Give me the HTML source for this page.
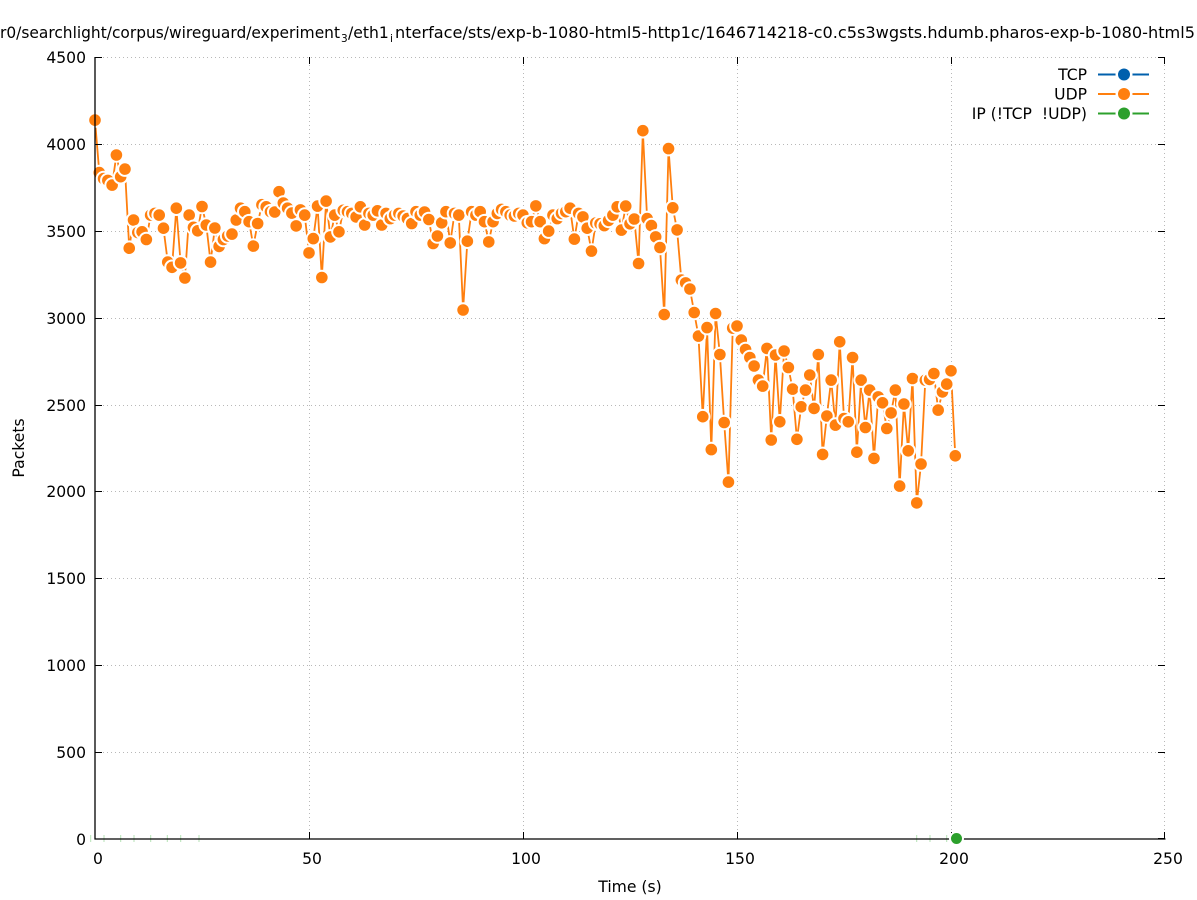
<!DOCTYPE html>
<html>
<head>
<meta charset="utf-8">
<style>
html,body{margin:0;padding:0;background:#fff;}
svg{display:block;}
text{font-family:"DejaVu Sans","Liberation Sans",sans-serif;fill:#000;}
</style>
</head>
<body>
<svg width="1197" height="900" viewBox="0 0 1197 900" xmlns="http://www.w3.org/2000/svg">
<defs>
<marker id="mo" markerUnits="userSpaceOnUse" markerWidth="20" markerHeight="20" refX="10" refY="10" overflow="visible">
<circle cx="10" cy="10" r="7.8" fill="#fff"/>
<circle cx="10" cy="10" r="5.8" fill="#ff7f0e"/>
</marker>
</defs>
<rect width="1197" height="900" fill="#fff"/>

<!-- title -->
<text y="38" font-size="15.6"><tspan x="0" textLength="340" lengthAdjust="spacingAndGlyphs">r0/searchlight/corpus/wireguard/experiment</tspan><tspan font-size="10.5" dy="4" x="341">3</tspan><tspan dy="-4" x="348">/eth1</tspan><tspan font-size="10.5" dy="4" x="390">i</tspan><tspan dy="-4" x="395" textLength="800" lengthAdjust="spacingAndGlyphs">nterface/sts/exp-b-1080-html5-http1c/1646714218-c0.c5s3wgsts.hdumb.pharos-exp-b-1080-html5</tspan></text>

<!-- grid -->
<g stroke="#b8b8b8" stroke-width="1" stroke-dasharray="1,3" fill="none">
<line x1="95" y1="57.5" x2="1165" y2="57.5"/>
<line x1="95" y1="144.5" x2="1165" y2="144.5"/>
<line x1="95" y1="231.5" x2="1165" y2="231.5"/>
<line x1="95" y1="318.5" x2="1165" y2="318.5"/>
<line x1="95" y1="405.5" x2="1165" y2="405.5"/>
<line x1="95" y1="491.5" x2="1165" y2="491.5"/>
<line x1="95" y1="578.5" x2="1165" y2="578.5"/>
<line x1="95" y1="665.5" x2="1165" y2="665.5"/>
<line x1="95" y1="752.5" x2="1165" y2="752.5"/>
<line x1="309.5" y1="57" x2="309.5" y2="839"/>
<line x1="523.5" y1="57" x2="523.5" y2="839"/>
<line x1="737.5" y1="57" x2="737.5" y2="839"/>
<line x1="951.5" y1="57" x2="951.5" y2="839"/>
<line x1="1164.5" y1="57" x2="1164.5" y2="839"/>
</g>

<!-- faint green fragments along x-axis -->
<g stroke="#b5e2b5" stroke-width="1">
<line x1="90.7" y1="835" x2="90.7" y2="842"/>
<line x1="104" y1="835" x2="104" y2="842"/>
<line x1="120.7" y1="835" x2="120.7" y2="842"/>
<line x1="134" y1="835" x2="134" y2="842"/>
<line x1="150.7" y1="835" x2="150.7" y2="842"/>
<line x1="167.3" y1="835" x2="167.3" y2="842"/>
<line x1="180.7" y1="835" x2="180.7" y2="842"/>
<line x1="199" y1="835" x2="199" y2="842"/>
<line x1="916.7" y1="835" x2="916.7" y2="842"/>
<line x1="930" y1="835" x2="930" y2="842"/>
<line x1="946.7" y1="835" x2="946.7" y2="842"/>
</g>

<!-- UDP series -->
<polyline fill="none" stroke="#ff7f0e" stroke-width="1.8" stroke-linejoin="round" marker-start="url(#mo)" marker-mid="url(#mo)" marker-end="url(#mo)" points="
95,120.1 99.28,172.6 103.56,178.6 107.84,180.4 112.12,185.1 116.4,155.0 120.68,176.7 124.96,169.1 129.24,248.2 133.52,220.0
137.8,232.5 142.08,231.8 146.36,239.5 150.64,215.1 154.92,213.4 159.2,215.1 163.48,228.2 167.76,262.1 172.04,267.3 176.32,208.2
180.6,262.9 184.88,278.0 189.16,215.1 193.44,227.3 197.72,230.8 202,206.5 206.28,225.0 210.56,262.1 214.84,228.0 219.12,246.4
223.4,239.5 227.68,236.0 231.96,234.1 236.24,220.0 240.52,208.2 244.8,211.7 249.08,221.7 253.36,246.1 257.64,223.5 261.92,204.7
266.2,206.8 270.48,211.7 274.76,212.0 279.04,191.7 283.32,203.0 287.6,208.2 291.88,213.1 296.16,225.9 300.44,209.9 304.72,215.1
309,252.9 313.28,238.6 317.56,206.1 321.84,277.5 326.12,201.1 330.4,236.9 334.68,215.1 338.96,231.8 343.24,210.3 347.52,211.7
351.8,213.4 356.08,216.9 360.36,206.8 364.64,225.0 368.92,213.4 373.2,215.1 377.48,210.8 381.76,225.0 386.04,213.4 390.32,218.6
394.6,215.1 398.88,213.4 403.16,216.0 407.44,218.6 411.72,223.5 416,211.7 420.28,215.1 424.56,212.0 428.84,219.5 433.12,243.5
437.4,236.0 441.68,222.8 445.96,211.7 450.24,242.9 454.52,213.4 458.8,215.1 463.08,310.0 467.36,241.2 471.64,211.7 475.92,215.1
480.2,211.7 484.48,221.7 488.76,241.9 493.04,221.7 497.32,213.4 501.6,209.4 505.88,211.7 510.16,215.1 514.44,216.0 518.72,213.4
523,215.1 527.28,222.8 531.56,221.7 535.84,205.9 540.12,221.7 544.4,238.6 548.68,231.1 552.96,215.1 557.24,218.6 561.52,213.4
565.8,211.7 570.08,208.2 574.36,239.1 578.64,213.4 582.92,216.9 587.2,228.2 591.48,251.1 595.76,223.0 600.04,223.8 604.32,225.6
608.6,220.4 612.88,215.1 617.16,206.8 621.44,230.1 625.72,206.1 630,223.8 634.28,219.0 638.56,263.5 642.84,130.7 647.12,218.6
651.4,225.6 655.68,236.9 659.96,247.5 664.24,314.5 668.52,148.6 672.8,207.8 677.08,229.9 681.36,280.0 685.64,282.9 689.92,289.0
694.2,312.5 698.48,336.1 702.76,416.7 707.04,327.6 711.32,449.6 715.6,313.5 719.88,354.5 724.16,422.5 728.44,482.1 732.72,328.1
737,326.0 741.28,340.1 745.56,349.5 749.84,357.5 754.12,366.0 758.4,380.1 762.68,386.1 766.96,348.4 771.24,440.0 775.52,355.0
779.8,421.8 784.08,351.0 788.36,367.5 792.64,389.1 796.92,439.3 801.2,406.8 805.48,390.1 809.76,375.0 814.04,408.4 818.32,354.5
822.6,454.4 826.88,416.0 831.16,380.1 835.44,425.1 839.72,341.8 844,418.5 848.28,421.8 852.56,357.5 856.84,452.2 861.12,380.1
865.4,427.5 869.68,390.1 873.96,458.4 878.24,396.9 882.52,402.8 886.8,428.5 891.08,412.9 895.36,390.1 899.64,486.1 903.92,404.0
908.2,450.8 912.48,378.5 916.76,502.9 921.04,464.0 925.32,380.2 929.6,379.4 933.88,373.5 938.16,410.1 942.44,391.9 946.72,384.1
951,370.8 955.28,455.8"/>

<!-- axes (left + bottom) -->
<g stroke="#000" stroke-width="1.3" fill="none">
<line x1="95" y1="57" x2="95" y2="839.5"/>
<line x1="94.5" y1="839" x2="1165.5" y2="839"/>
</g>
<!-- ticks -->
<g stroke="#000" stroke-width="1">
<line x1="95" y1="57.5" x2="102" y2="57.5"/>
<line x1="95" y1="144.5" x2="102" y2="144.5"/>
<line x1="95" y1="231.5" x2="102" y2="231.5"/>
<line x1="95" y1="318.5" x2="102" y2="318.5"/>
<line x1="95" y1="405.5" x2="102" y2="405.5"/>
<line x1="95" y1="491.5" x2="102" y2="491.5"/>
<line x1="95" y1="578.5" x2="102" y2="578.5"/>
<line x1="95" y1="665.5" x2="102" y2="665.5"/>
<line x1="95" y1="752.5" x2="102" y2="752.5"/>
<line x1="1158" y1="57.5" x2="1165" y2="57.5"/>
<line x1="1158" y1="144.5" x2="1165" y2="144.5"/>
<line x1="1158" y1="231.5" x2="1165" y2="231.5"/>
<line x1="1158" y1="318.5" x2="1165" y2="318.5"/>
<line x1="1158" y1="405.5" x2="1165" y2="405.5"/>
<line x1="1158" y1="491.5" x2="1165" y2="491.5"/>
<line x1="1158" y1="578.5" x2="1165" y2="578.5"/>
<line x1="1158" y1="665.5" x2="1165" y2="665.5"/>
<line x1="1158" y1="752.5" x2="1165" y2="752.5"/>
<line x1="1158" y1="838.5" x2="1165" y2="838.5"/>
<line x1="309.5" y1="832" x2="309.5" y2="839"/>
<line x1="523.5" y1="832" x2="523.5" y2="839"/>
<line x1="737.5" y1="832" x2="737.5" y2="839"/>
<line x1="951.5" y1="832" x2="951.5" y2="839"/>
<line x1="1164.5" y1="832" x2="1164.5" y2="839"/>
<line x1="309.5" y1="57" x2="309.5" y2="64"/>
<line x1="523.5" y1="57" x2="523.5" y2="64"/>
<line x1="737.5" y1="57" x2="737.5" y2="64"/>
<line x1="951.5" y1="57" x2="951.5" y2="64"/>
<line x1="1164.5" y1="57" x2="1164.5" y2="64"/>
</g>

<!-- green IP point -->
<circle cx="956.5" cy="838.5" r="7.5" fill="#fff"/>
<circle cx="956.5" cy="838.5" r="5.5" fill="#2ca02c"/>

<!-- y tick labels -->
<g font-size="15.6" text-anchor="end">
<text x="86" y="63">4500</text>
<text x="86" y="150">4000</text>
<text x="86" y="237">3500</text>
<text x="86" y="324">3000</text>
<text x="86" y="411">2500</text>
<text x="86" y="497">2000</text>
<text x="86" y="584">1500</text>
<text x="86" y="671">1000</text>
<text x="86" y="758">500</text>
<text x="86" y="845">0</text>
</g>
<!-- x tick labels -->
<g font-size="15.6" text-anchor="middle">
<text x="98" y="864">0</text>
<text x="312" y="864">50</text>
<text x="526" y="864">100</text>
<text x="740" y="864">150</text>
<text x="954" y="864">200</text>
<text x="1168" y="864">250</text>
</g>
<!-- axis titles -->
<text x="630" y="892" font-size="15.6" text-anchor="middle">Time (s)</text>
<text x="0" y="0" font-size="15.6" text-anchor="middle" transform="translate(24,448) rotate(-90)">Packets</text>

<!-- legend -->
<g font-size="15.6" text-anchor="end">
<text x="1087" y="80">TCP</text>
<text x="1087" y="99.5">UDP</text>
<text x="1087" y="119">IP (!TCP&#160; !UDP)</text>
</g>
<g stroke-width="2">
<line x1="1098" y1="74.5" x2="1149" y2="74.5" stroke="#0060ad"/>
<line x1="1098" y1="94" x2="1149" y2="94" stroke="#ff7f0e"/>
<line x1="1098" y1="113.5" x2="1149" y2="113.5" stroke="#2ca02c"/>
</g>
<circle cx="1124" cy="74.5" r="8.5" fill="#fff"/>
<circle cx="1124" cy="74.5" r="6" fill="#0060ad"/>
<circle cx="1124" cy="94" r="8.5" fill="#fff"/>
<circle cx="1124" cy="94" r="6" fill="#ff7f0e"/>
<circle cx="1124" cy="113.5" r="8.5" fill="#fff"/>
<circle cx="1124" cy="113.5" r="6" fill="#2ca02c"/>
</svg>
</body>
</html>
